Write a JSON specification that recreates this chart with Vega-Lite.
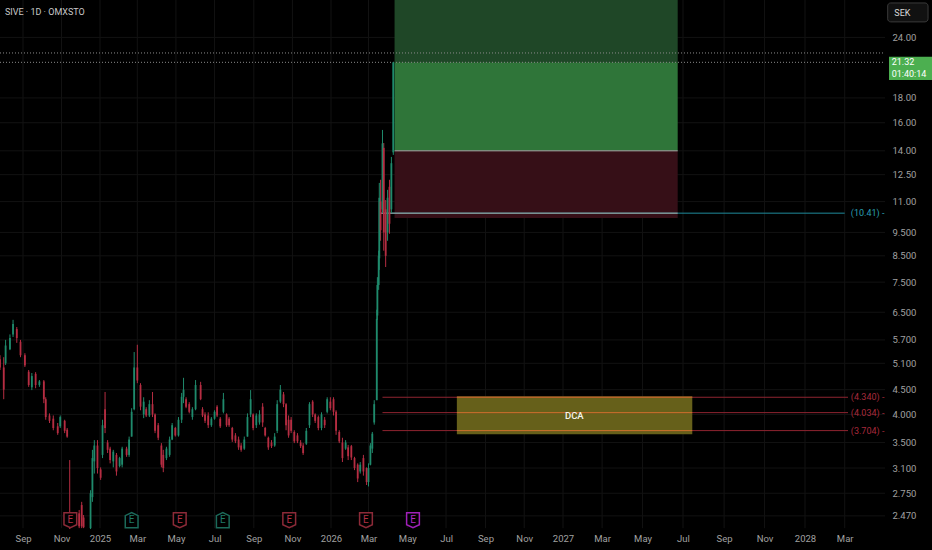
{"$schema":"https://vega.github.io/schema/vega-lite/v6.json","width":932,"height":550,"padding":0,"autosize":{"type":"none"},"background":"#000000","config":{"view":{"stroke":null},"text":{"font":"Roboto"},"axis":{"title":null}},
"datasets":{"candles":[
{"d":"2024-07-26","h":5.30,"l":4.94,"o":5.2,"c":5.0},{"d":"2024-08-01","h":5.25,"l":4.30,"o":5.0,"c":4.5},{"d":"2024-08-04","h":5.70,"l":5.06,"o":5.1,"c":5.55},{"d":"2024-08-11","h":5.85,"l":5.43,"o":5.45,"c":5.75},{"d":"2024-08-16","h":6.27,"l":5.78,"o":5.85,"c":6.15},{"d":"2024-08-22","h":6.06,"l":5.62,"o":6.0,"c":5.75},{"d":"2024-08-28","h":5.70,"l":5.25,"o":5.65,"c":5.3},{"d":"2024-09-04","h":5.35,"l":5.01,"o":5.3,"c":5.05},{"d":"2024-09-10","h":4.94,"l":4.56,"o":4.9,"c":4.6},{"d":"2024-09-15","h":4.87,"l":4.49,"o":4.55,"c":4.8},{"d":"2024-09-21","h":4.89,"l":4.53,"o":4.85,"c":4.6},{"d":"2024-09-27","h":4.71,"l":4.56,"o":4.6,"c":4.68},{"d":"2024-10-04","h":4.71,"l":4.22,"o":4.68,"c":4.3},{"d":"2024-10-07","h":4.34,"l":3.90,"o":4.3,"c":3.95},{"d":"2024-10-13","h":4.02,"l":3.84,"o":3.98,"c":3.88},{"d":"2024-10-19","h":3.98,"l":3.71,"o":3.92,"c":3.75},{"d":"2024-10-26","h":3.84,"l":3.63,"o":3.78,"c":3.66},{"d":"2024-10-30","h":3.98,"l":3.75,"o":3.78,"c":3.95},{"d":"2024-11-06","h":3.90,"l":3.66,"o":3.88,"c":3.70},{"d":"2024-11-10","h":3.75,"l":3.58,"o":3.72,"c":3.60},{"d":"2024-11-14","h":3.22,"l":2.32,"o":2.45,"c":2.36},{"d":"2024-11-29","h":2.54,"l":2.33,"o":2.5,"c":2.35},{"d":"2024-12-03","h":2.64,"l":2.33,"o":2.6,"c":2.35},{"d":"2024-12-06","h":2.48,"l":2.33,"o":2.45,"c":2.34},{"d":"2024-12-17","h":2.79,"l":2.32,"o":2.33,"c":2.75},{"d":"2024-12-20","h":3.38,"l":2.64,"o":2.7,"c":3.25},{"d":"2024-12-23","h":3.54,"l":3.02,"o":3.2,"c":3.45},{"d":"2024-12-28","h":3.54,"l":3.02,"o":3.45,"c":3.1},{"d":"2025-01-02","h":3.11,"l":2.93,"o":3.08,"c":2.96},{"d":"2025-01-05","h":3.90,"l":3.25,"o":3.3,"c":3.8},{"d":"2025-01-09","h":4.45,"l":3.66,"o":4.1,"c":3.75},{"d":"2025-01-13","h":3.54,"l":3.33,"o":3.5,"c":3.38},{"d":"2025-01-17","h":3.43,"l":3.17,"o":3.4,"c":3.22},{"d":"2025-01-22","h":3.38,"l":3.11,"o":3.2,"c":3.35},{"d":"2025-01-27","h":3.33,"l":2.99,"o":3.3,"c":3.05},{"d":"2025-02-01","h":3.27,"l":3.11,"o":3.13,"c":3.25},{"d":"2025-02-05","h":3.43,"l":3.11,"o":3.15,"c":3.4},{"d":"2025-02-12","h":3.43,"l":3.27,"o":3.4,"c":3.3},{"d":"2025-02-16","h":3.60,"l":3.27,"o":3.3,"c":3.55},{"d":"2025-02-20","h":4.12,"l":3.60,"o":3.6,"c":4.05},{"d":"2025-02-24","h":5.38,"l":4.08,"o":4.1,"c":5.0},{"d":"2025-03-01","h":5.57,"l":4.64,"o":5.0,"c":4.7},{"d":"2025-03-06","h":4.64,"l":4.08,"o":4.6,"c":4.15},{"d":"2025-03-11","h":4.34,"l":3.93,"o":4.0,"c":4.25},{"d":"2025-03-15","h":4.14,"l":3.95,"o":4.1,"c":3.98},{"d":"2025-03-20","h":4.28,"l":3.95,"o":3.98,"c":4.2},{"d":"2025-03-25","h":4.45,"l":3.95,"o":4.2,"c":4.0},{"d":"2025-03-29","h":4.02,"l":3.66,"o":4.0,"c":3.7},{"d":"2025-04-03","h":3.84,"l":3.54,"o":3.8,"c":3.58},{"d":"2025-04-08","h":3.49,"l":3.11,"o":3.45,"c":3.15},{"d":"2025-04-11","h":3.38,"l":3.04,"o":3.3,"c":3.1},{"d":"2025-04-16","h":3.43,"l":3.22,"o":3.25,"c":3.4},{"d":"2025-04-21","h":3.60,"l":3.27,"o":3.3,"c":3.55},{"d":"2025-04-25","h":3.84,"l":3.54,"o":3.55,"c":3.8},{"d":"2025-04-30","h":3.77,"l":3.60,"o":3.75,"c":3.62},{"d":"2025-05-05","h":3.95,"l":3.60,"o":3.62,"c":3.9},{"d":"2025-05-10","h":4.43,"l":3.84,"o":3.9,"c":4.35},{"d":"2025-05-13","h":4.76,"l":4.22,"o":4.35,"c":4.5},{"d":"2025-05-17","h":4.34,"l":4.12,"o":4.3,"c":4.15},{"d":"2025-05-22","h":4.24,"l":4.02,"o":4.2,"c":4.05},{"d":"2025-05-27","h":4.14,"l":3.90,"o":3.95,"c":4.1},{"d":"2025-06-01","h":4.71,"l":4.08,"o":4.1,"c":4.6},{"d":"2025-06-09","h":4.67,"l":4.28,"o":4.6,"c":4.3},{"d":"2025-06-12","h":4.14,"l":3.95,"o":4.1,"c":3.98},{"d":"2025-06-16","h":4.04,"l":3.84,"o":4.0,"c":3.88},{"d":"2025-06-21","h":4.04,"l":3.75,"o":3.98,"c":3.8},{"d":"2025-06-26","h":3.95,"l":3.77,"o":3.8,"c":3.92},{"d":"2025-07-01","h":4.08,"l":3.90,"o":3.92,"c":4.05},{"d":"2025-07-05","h":4.18,"l":3.95,"o":4.15,"c":3.98},{"d":"2025-07-10","h":3.95,"l":3.75,"o":3.92,"c":3.78},{"d":"2025-07-15","h":4.43,"l":4.02,"o":4.05,"c":4.3},{"d":"2025-07-20","h":4.02,"l":3.77,"o":4.0,"c":3.8},{"d":"2025-07-24","h":3.95,"l":3.77,"o":3.92,"c":3.8},{"d":"2025-07-29","h":3.77,"l":3.51,"o":3.75,"c":3.55},{"d":"2025-08-03","h":3.66,"l":3.49,"o":3.62,"c":3.52},{"d":"2025-08-08","h":3.60,"l":3.38,"o":3.55,"c":3.42},{"d":"2025-08-12","h":3.49,"l":3.35,"o":3.45,"c":3.38},{"d":"2025-08-17","h":3.60,"l":3.38,"o":3.4,"c":3.55},{"d":"2025-08-22","h":4.02,"l":3.60,"o":3.6,"c":3.95},{"d":"2025-08-27","h":4.49,"l":3.95,"o":4.0,"c":4.3},{"d":"2025-08-31","h":4.02,"l":3.71,"o":4.0,"c":3.75},{"d":"2025-09-05","h":4.02,"l":3.75,"o":3.8,"c":3.98},{"d":"2025-09-10","h":4.08,"l":3.81,"o":3.85,"c":4.0},{"d":"2025-09-15","h":4.22,"l":3.77,"o":4.15,"c":3.85},{"d":"2025-09-19","h":3.77,"l":3.60,"o":3.75,"c":3.62},{"d":"2025-09-24","h":3.60,"l":3.38,"o":3.58,"c":3.42},{"d":"2025-09-29","h":3.54,"l":3.41,"o":3.5,"c":3.44},{"d":"2025-10-04","h":3.66,"l":3.43,"o":3.45,"c":3.6},{"d":"2025-10-08","h":4.28,"l":3.66,"o":3.7,"c":4.2},{"d":"2025-10-13","h":4.60,"l":4.22,"o":4.25,"c":4.5},{"d":"2025-10-18","h":4.45,"l":4.14,"o":4.4,"c":4.2},{"d":"2025-10-22","h":4.22,"l":3.71,"o":4.2,"c":3.8},{"d":"2025-10-26","h":3.98,"l":3.58,"o":3.9,"c":3.62},{"d":"2025-10-30","h":3.95,"l":3.66,"o":3.9,"c":3.7},{"d":"2025-11-04","h":3.71,"l":3.49,"o":3.68,"c":3.52},{"d":"2025-11-09","h":3.66,"l":3.49,"o":3.62,"c":3.52},{"d":"2025-11-14","h":3.54,"l":3.41,"o":3.5,"c":3.44},{"d":"2025-11-18","h":3.49,"l":3.30,"o":3.45,"c":3.33},{"d":"2025-11-23","h":3.75,"l":3.46,"o":3.48,"c":3.7},{"d":"2025-11-28","h":4.24,"l":3.75,"o":3.8,"c":4.2},{"d":"2025-12-03","h":4.28,"l":3.95,"o":4.25,"c":4.0},{"d":"2025-12-07","h":4.02,"l":3.84,"o":4.0,"c":3.88},{"d":"2025-12-12","h":3.98,"l":3.71,"o":3.95,"c":3.75},{"d":"2025-12-17","h":4.04,"l":3.71,"o":3.75,"c":4.0},{"d":"2025-12-22","h":3.95,"l":3.75,"o":3.9,"c":3.8},{"d":"2025-12-26","h":4.34,"l":4.02,"o":4.05,"c":4.3},{"d":"2025-12-31","h":4.34,"l":4.08,"o":4.25,"c":4.12},{"d":"2026-01-05","h":4.34,"l":3.98,"o":4.3,"c":4.05},{"d":"2026-01-09","h":4.08,"l":3.63,"o":4.05,"c":3.7},{"d":"2026-01-14","h":3.71,"l":3.49,"o":3.68,"c":3.52},{"d":"2026-01-19","h":3.58,"l":3.19,"o":3.5,"c":3.25},{"d":"2026-01-24","h":3.54,"l":3.38,"o":3.4,"c":3.5},{"d":"2026-01-28","h":3.46,"l":3.22,"o":3.42,"c":3.28},{"d":"2026-02-02","h":3.46,"l":3.22,"o":3.44,"c":3.26},{"d":"2026-02-07","h":3.27,"l":3.07,"o":3.25,"c":3.1},{"d":"2026-02-12","h":3.17,"l":2.90,"o":3.15,"c":2.95},{"d":"2026-02-16","h":3.19,"l":3.02,"o":3.05,"c":3.15},{"d":"2026-02-21","h":3.30,"l":2.99,"o":3.25,"c":3.05},{"d":"2026-02-26","h":3.11,"l":2.86,"o":3.1,"c":2.9},{"d":"2026-03-01","h":3.17,"l":2.84,"o":2.9,"c":3.1},{"d":"2026-03-04","h":3.49,"l":3.14,"o":3.15,"c":3.45},{"d":"2026-03-07","h":3.68,"l":3.33,"o":3.4,"c":3.65},{"d":"2026-03-10","h":4.28,"l":3.81,"o":3.85,"c":4.2},{"d":"2026-03-14","h":6.58,"l":4.28,"o":4.28,"c":6.3},{"d":"2026-03-15","h":7.68,"l":6.27,"o":6.4,"c":7.4},{"d":"2026-03-17","h":8.71,"l":7.23,"o":7.4,"c":8.5},{"d":"2026-03-18","h":12.02,"l":7.95,"o":8.4,"c":11.2},{"d":"2026-03-20","h":12.2,"l":9.13,"o":11,"c":9.6},{"d":"2026-03-23","h":15.46,"l":10.42,"o":10.6,"c":14.5},{"d":"2026-03-25","h":14.53,"l":8.71,"o":14.2,"c":9.5},{"d":"2026-03-28","h":11.08,"l":8.06,"o":10.6,"c":8.5},{"d":"2026-03-31","h":11.63,"l":9.13,"o":9.5,"c":11.2},{"d":"2026-04-03","h":12.2,"l":9.44,"o":11.8,"c":9.9},{"d":"2026-04-06","h":13.6,"l":10.42,"o":10.6,"c":13.2},{"d":"2026-04-09","h":21.32,"l":13.73,"o":13.9,"c":21.32}
],
"badges":[{"d":"2024-11-15","k":"loss","p":2.42,"t":"E"},{"d":"2025-02-20","k":"beat","p":2.42,"t":"E"},{"d":"2025-05-07","k":"loss","p":2.42,"t":"E"},{"d":"2025-07-14","k":"beat","p":2.42,"t":"E"},{"d":"2025-10-27","k":"loss","p":2.42,"t":"E"},{"d":"2026-02-25","k":"loss","p":2.42,"t":"E"},{"d":"2026-05-10","k":"next","p":2.42,"t":"E"}]},
"layer":[
{"data":{"name":"candles"},"mark":{"type":"rule","strokeWidth":1},
 "encoding":{
 "x":{"field":"d","type":"temporal","scale":{"type":"time","domain":{"expr":"[1721952000000,1725148800000,1735689600000,1767225600000,1798761600000,1830297600000,1846886400000]"},"range":[0,23,100,331,563,805,932],"nice":false},
  "axis":{"orient":"bottom","title":null,"values":["2024-09-01","2024-11-01","2025-01-01","2025-03-01","2025-05-01","2025-07-01","2025-09-01","2025-11-01","2026-01-01","2026-03-01","2026-05-01","2026-07-01","2026-09-01","2026-11-01","2027-01-01","2027-03-01","2027-05-01","2027-07-01","2027-09-01","2027-11-01","2028-01-01","2028-03-01"],"labelExpr":"timeFormat(datum.value,'%m')=='01'?timeFormat(datum.value,'%Y'):timeFormat(datum.value,'%b')","domain":false,"ticks":false,"grid":false,"labelColor":"#a0a0a0","labelFont":"Roboto","labelFontSize":9.5,"offset":-17,"labelPadding":0,"labelBaseline":"top","labelOverlap":false,"labelFlush":false,"zindex":1}},
 "y":{"field":"h","type":"quantitative","scale":{"type":"log","domain":[2.1,28.67],"nice":false,"zero":false},
  "axis":{"orient":"right","title":null,"values":[24,18,16,14,12.5,11,9.5,8.5,7.5,6.5,5.7,5.1,4.5,4,3.5,3.1,2.75,2.47],"labelExpr":"datum.value>=10?format(datum.value,'.2f'):format(datum.value,'.3f')","domain":false,"ticks":false,"grid":false,"labelColor":"#a0a0a0","labelFont":"Roboto","labelFontSize":9.5,"labelAlign":"left","offset":-40,"labelPadding":0,"labelOverlap":false,"labelFlush":false,"zindex":1}},
 "y2":{"field":"l"},"color":{"value":"#00000000"}}},
{"data":{"values":[{"d":"2024-09-01","t":28.67,"u":2.33},{"d":"2024-11-01","t":28.67,"u":2.33},{"d":"2025-01-01","t":28.67,"u":2.33},{"d":"2025-03-01","t":28.67,"u":2.33},{"d":"2025-05-01","t":28.67,"u":2.33},{"d":"2025-07-01","t":28.67,"u":2.33},{"d":"2025-09-01","t":28.67,"u":2.33},{"d":"2025-11-01","t":28.67,"u":2.33},{"d":"2026-01-01","t":28.67,"u":2.33},{"d":"2026-03-01","t":28.67,"u":2.33},{"d":"2026-05-01","t":28.67,"u":2.33},{"d":"2026-07-01","t":28.67,"u":2.33},{"d":"2026-09-01","t":28.67,"u":2.33},{"d":"2026-11-01","t":28.67,"u":2.33},{"d":"2027-01-01","t":28.67,"u":2.33},{"d":"2027-03-01","t":28.67,"u":2.33},{"d":"2027-05-01","t":28.67,"u":2.33},{"d":"2027-07-01","t":28.67,"u":2.33},{"d":"2027-09-01","t":28.67,"u":2.33},{"d":"2027-11-01","t":28.67,"u":2.33},{"d":"2028-01-01","t":28.67,"u":2.33},{"d":"2028-03-01","t":28.67,"u":2.33}]},"mark":{"type":"rule","color":"#121212","strokeWidth":1},"encoding":{"x":{"field":"d","type":"temporal"},"y":{"field":"t","type":"quantitative"},"y2":{"field":"u"}}},
{"data":{"values":[{"a":"2024-07-26","b":"2028-05-01","p":24},{"a":"2024-07-26","b":"2028-05-01","p":18},{"a":"2024-07-26","b":"2028-05-01","p":16},{"a":"2024-07-26","b":"2028-05-01","p":14},{"a":"2024-07-26","b":"2028-05-01","p":12.5},{"a":"2024-07-26","b":"2028-05-01","p":11},{"a":"2024-07-26","b":"2028-05-01","p":9.5},{"a":"2024-07-26","b":"2028-05-01","p":8.5},{"a":"2024-07-26","b":"2028-05-01","p":7.5},{"a":"2024-07-26","b":"2028-05-01","p":6.5},{"a":"2024-07-26","b":"2028-05-01","p":5.7},{"a":"2024-07-26","b":"2028-05-01","p":5.1},{"a":"2024-07-26","b":"2028-05-01","p":4.5},{"a":"2024-07-26","b":"2028-05-01","p":4},{"a":"2024-07-26","b":"2028-05-01","p":3.5},{"a":"2024-07-26","b":"2028-05-01","p":3.1},{"a":"2024-07-26","b":"2028-05-01","p":2.75},{"a":"2024-07-26","b":"2028-05-01","p":2.47}]},"mark":{"type":"rule","color":"#121212","strokeWidth":1},"encoding":{"x":{"field":"a","type":"temporal"},"x2":{"field":"b"},"y":{"field":"p","type":"quantitative"}}},
{"data":{"values":[{"a":"2026-04-11","b":"2027-06-23","t":28.67,"u":21.32}]},"mark":{"type":"rect","color":"#1f4727"},"encoding":{"x":{"field":"a","type":"temporal"},"x2":{"field":"b"},"y":{"field":"t","type":"quantitative"},"y2":{"field":"u"}}},
{"data":{"values":[{"a":"2026-04-11","b":"2027-06-23","t":21.32,"u":14.0}]},"mark":{"type":"rect","color":"#2f7539"},"encoding":{"x":{"field":"a","type":"temporal"},"x2":{"field":"b"},"y":{"field":"t","type":"quantitative"},"y2":{"field":"u"}}},
{"data":{"values":[{"a":"2026-04-11","b":"2027-06-23","t":14.0,"u":10.17}]},"mark":{"type":"rect","color":"#360f17"},"encoding":{"x":{"field":"a","type":"temporal"},"x2":{"field":"b"},"y":{"field":"t","type":"quantitative"},"y2":{"field":"u"}}},
{"data":{"values":[{"a":"2026-07-18","b":"2027-07-15","t":4.36,"u":3.64}]},"mark":{"type":"rect","color":"#66601a"},"encoding":{"x":{"field":"a","type":"temporal"},"x2":{"field":"b"},"y":{"field":"t","type":"quantitative"},"y2":{"field":"u"}}},
{"data":{"values":[{"a":"2026-03-20","b":"2028-03-01","p":10.41}]},"mark":{"type":"rule","color":"#1f8a9c","strokeWidth":1},"encoding":{"x":{"field":"a","type":"temporal"},"x2":{"field":"b"},"y":{"field":"p","type":"quantitative"}}},
{"data":{"values":[{"a":"2026-04-11","b":"2027-06-23","p":14.0},{"a":"2026-03-20","b":"2027-06-23","p":10.41}]},"mark":{"type":"rule","color":"#a8aca8","strokeWidth":1},"encoding":{"x":{"field":"a","type":"temporal"},"x2":{"field":"b"},"y":{"field":"p","type":"quantitative"}}},
{"data":{"values":[{"a":"2026-03-23","b":"2028-03-06","p":4.34},{"a":"2026-03-23","b":"2028-03-06","p":4.034},{"a":"2026-03-23","b":"2028-03-06","p":3.704}]},"mark":{"type":"rule","color":"#8f2430","strokeWidth":1},"encoding":{"x":{"field":"a","type":"temporal"},"x2":{"field":"b"},"y":{"field":"p","type":"quantitative"}}},
{"data":{"values":[{"a":"2026-07-18","b":"2027-07-15","p":4.34},{"a":"2026-07-18","b":"2027-07-15","p":4.034},{"a":"2026-07-18","b":"2027-07-15","p":3.704}]},"mark":{"type":"rule","color":"#c8762a","strokeWidth":1},"encoding":{"x":{"field":"a","type":"temporal"},"x2":{"field":"b"},"y":{"field":"p","type":"quantitative"}}},
{"data":{"values":[{"a":"2024-07-26","b":"2028-04-30","p":22.29},{"a":"2024-07-26","b":"2028-04-30","p":21.32}]},"mark":{"type":"rule","color":"#8a8a8a","strokeWidth":1,"strokeDash":[1,2]},"encoding":{"x":{"field":"a","type":"temporal"},"x2":{"field":"b"},"y":{"field":"p","type":"quantitative"}}},
{"data":{"name":"candles"},"mark":{"type":"rule","strokeWidth":1},"encoding":{"x":{"field":"d","type":"temporal"},"y":{"field":"h","type":"quantitative"},"y2":{"field":"l"},"color":{"condition":{"test":"datum.c>=datum.o","value":"#1f8a6c"},"value":"#b52d42"}}},
{"data":{"name":"candles"},"mark":{"type":"rule","strokeWidth":1.8},"encoding":{"x":{"field":"d","type":"temporal"},"y":{"field":"o","type":"quantitative"},"y2":{"field":"c"},"color":{"condition":{"test":"datum.c>=datum.o","value":"#1f8a6c"},"value":"#b52d42"}}},
{"data":{"name":"badges"},"mark":{"type":"point","filled":true,"fill":"#000000","strokeWidth":1.5,"size":225,"opacity":1},"encoding":{"x":{"field":"d","type":"temporal"},"y":{"field":"p","type":"quantitative"},"shape":{"field":"k","type":"nominal","legend":null,"scale":{"domain":["loss","beat","next"],"range":["M-0.85,-1L0.85,-1L0.85,0.6L0,1L-0.85,0.6Z","M-0.85,1L0.85,1L0.85,-0.6L0,-1L-0.85,-0.6Z","M-0.85,-1L0.85,-1L0.85,0.6L0,1L-0.85,0.6Z"]}},"stroke":{"field":"k","type":"nominal","legend":null,"scale":{"domain":["loss","beat","next"],"range":["#8c2a38","#1c6a5a","#a020b8"]}}}},
{"data":{"name":"badges"},"mark":{"type":"text","fontSize":10,"baseline":"middle","align":"center"},"encoding":{"x":{"field":"d","type":"temporal"},"y":{"field":"p","type":"quantitative"},"text":{"field":"t"},"color":{"field":"k","type":"nominal","legend":null,"scale":{"domain":["loss","beat","next"],"range":["#b03045","#1f7a68","#b028c8"]}}}},
{"data":{"values":[{"a":"2028-04-30","p":4.34,"t":"(4.340) -"},{"a":"2028-04-30","p":4.034,"t":"(4.034) -"},{"a":"2028-04-30","p":3.704,"t":"(3.704) -"}]},"mark":{"type":"text","fontSize":9,"align":"right","baseline":"middle","color":"#a82a3c"},"encoding":{"x":{"field":"a","type":"temporal"},"y":{"field":"p","type":"quantitative"},"text":{"field":"t"}}},
{"data":{"values":[{"a":"2028-04-30","p":10.41,"t":"(10.41) -"}]},"mark":{"type":"text","fontSize":9,"align":"right","baseline":"middle","color":"#2a9fb2"},"encoding":{"x":{"field":"a","type":"temporal"},"y":{"field":"p","type":"quantitative"},"text":{"field":"t"}}},
{"data":{"values":[{"a":"2027-01-18","p":3.97,"t":"DCA"}]},"mark":{"type":"text","fontSize":9.5,"fontWeight":500,"align":"center","baseline":"middle","color":"#f6f6ec"},"encoding":{"x":{"field":"a","type":"temporal"},"y":{"field":"p","type":"quantitative"},"text":{"field":"t"}}},
{"data":{"values":[{"a":"2028-05-07","b":"2028-07-11","t":21.88,"u":19.61}]},"mark":{"type":"rect","color":"#4caf50"},"encoding":{"x":{"field":"a","type":"temporal"},"x2":{"field":"b"},"y":{"field":"t","type":"quantitative"},"y2":{"field":"u"}}},
{"data":{"values":[{"a":"2028-05-11","p":21.32,"t":"21.32"},{"a":"2028-05-11","p":20.13,"t":"01:40:14"}]},"mark":{"type":"text","fontSize":9,"align":"left","baseline":"middle","color":"#ffffff"},"encoding":{"x":{"field":"a","type":"temporal"},"y":{"field":"p","type":"quantitative"},"text":{"field":"t"}}},
{"data":{"values":[{"a":"2028-05-05","b":"2028-07-05","t":28.27,"u":25.84}]},"mark":{"type":"rect","fill":"#111111","stroke":"#3a3a3a","strokeWidth":1,"cornerRadius":3},"encoding":{"x":{"field":"a","type":"temporal"},"x2":{"field":"b"},"y":{"field":"t","type":"quantitative"},"y2":{"field":"u"}}},
{"data":{"values":[{"a":"2028-05-15","p":26.96,"t":"SEK"}]},"mark":{"type":"text","fontSize":9,"align":"left","baseline":"middle","color":"#d8d8d8"},"encoding":{"x":{"field":"a","type":"temporal"},"y":{"field":"p","type":"quantitative"},"text":{"field":"t"}}},
{"data":{"values":[{"a":"2024-08-03","p":27.09,"t":"SIVE · 1D · OMXSTO"}]},"mark":{"type":"text","fontSize":9,"align":"left","baseline":"middle","color":"#c8c8c8"},"encoding":{"x":{"field":"a","type":"temporal"},"y":{"field":"p","type":"quantitative"},"text":{"field":"t"}}}
]}
